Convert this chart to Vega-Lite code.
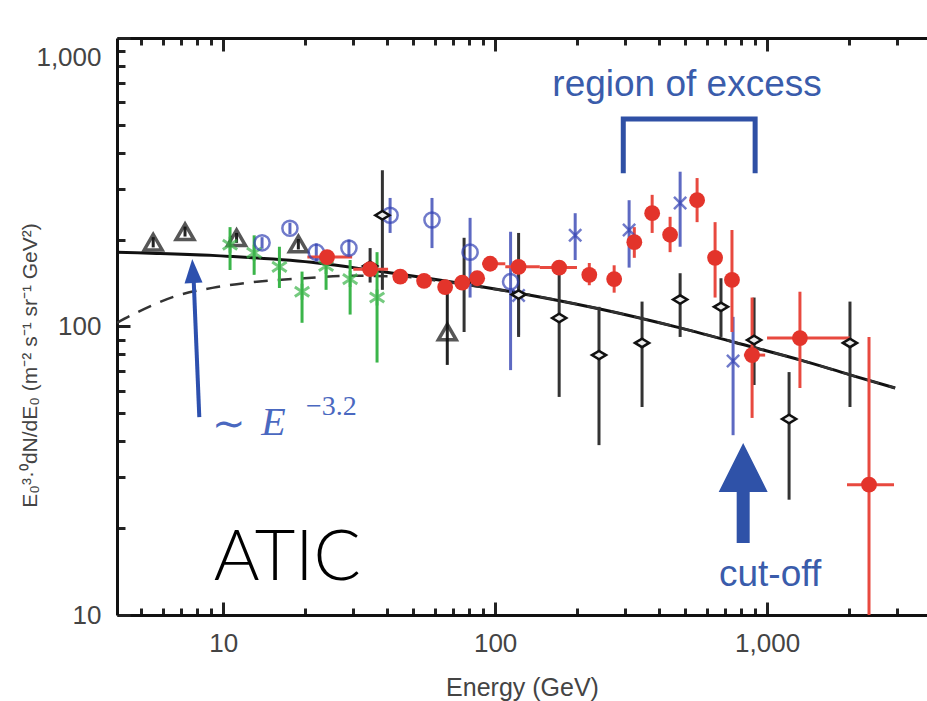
{
  "$schema": "https://vega.github.io/schema/vega-lite/v6.json",
  "autosize": {"type": "none"},
  "padding": {"left": 117, "top": 38, "right": 0, "bottom": 86},
  "width": 810,
  "height": 577,
  "background": "white",
  "config": {"view": {"stroke": null}},
  "datasets": {
    "pts": [
      {"s": "tri", "E": 5.53, "F": 196, "lo": 188, "hi": 204},
      {"s": "tri", "E": 7.24, "F": 213, "lo": 205, "hi": 222},
      {"s": "tri", "E": 11.2, "F": 203, "lo": 195, "hi": 211},
      {"s": "tri", "E": 18.9, "F": 193, "lo": 185, "hi": 201},
      {"s": "tri", "E": 66.7, "F": 95.7, "lo": 73.6, "hi": 142.6},
      {"s": "green", "E": 10.6, "F": 192, "lo": 157, "hi": 221},
      {"s": "green", "E": 13.0, "F": 180, "lo": 151, "hi": 207},
      {"s": "green", "E": 16.1, "F": 161, "lo": 136, "hi": 189},
      {"s": "green", "E": 19.5, "F": 132, "lo": 103, "hi": 155},
      {"s": "green", "E": 23.9, "F": 162, "lo": 134, "hi": 174},
      {"s": "green", "E": 29.3, "F": 146, "lo": 110, "hi": 170},
      {"s": "green", "E": 36.8, "F": 126, "lo": 75, "hi": 181},
      {"s": "bcirc", "E": 13.9, "F": 195, "lo": 186, "hi": 204},
      {"s": "bcirc", "E": 17.6, "F": 219, "lo": 209, "hi": 229},
      {"s": "bcirc", "E": 22.0, "F": 181, "lo": 168, "hi": 194},
      {"s": "bcirc", "E": 29.0, "F": 187, "lo": 176, "hi": 200},
      {"s": "bcirc", "E": 41.1, "F": 243, "lo": 211, "hi": 279},
      {"s": "bcirc", "E": 58.6, "F": 234, "lo": 187, "hi": 279},
      {"s": "bcirc", "E": 80.9, "F": 181, "lo": 126, "hi": 238},
      {"s": "bcirc", "E": 114, "F": 143, "lo": 70.6, "hi": 213},
      {"s": "bx", "E": 122, "F": 128, "lo": 93.5, "hi": 167.5},
      {"s": "bx", "E": 197, "F": 207, "lo": 170, "hi": 247},
      {"s": "bx", "E": 311, "F": 216, "lo": 160, "hi": 274},
      {"s": "bx", "E": 479, "F": 268, "lo": 189, "hi": 344},
      {"s": "bx", "E": 750, "F": 75.9, "lo": 42, "hi": 108},
      {"s": "diam", "E": 38.5, "F": 243, "lo": 134, "hi": 348},
      {"s": "diam", "E": 34.7, "F": 162, "lo": 142, "hi": 187},
      {"s": "diam", "E": 76.9, "F": 143, "lo": 95.7, "hi": 203},
      {"s": "diam", "E": 122, "F": 129, "lo": 92, "hi": 211},
      {"s": "diam", "E": 172, "F": 107, "lo": 57, "hi": 161},
      {"s": "diam", "E": 241, "F": 79.6, "lo": 38.8, "hi": 117},
      {"s": "diam", "E": 347, "F": 87.7, "lo": 52.6, "hi": 122},
      {"s": "diam", "E": 479, "F": 124, "lo": 92, "hi": 153},
      {"s": "diam", "E": 677, "F": 117, "lo": 92, "hi": 147},
      {"s": "diam", "E": 896, "F": 89.8, "lo": 62.7, "hi": 126},
      {"s": "diam", "E": 1205, "F": 47.8, "lo": 25.1, "hi": 69.5},
      {"s": "diam", "E": 2018, "F": 87.7, "lo": 52.6, "hi": 122},
      {"s": "atic", "E": 24.1, "F": 174, "lo": 168, "hi": 180, "xlo": 20.4, "xhi": 29.8},
      {"s": "atic", "E": 34.7, "F": 158, "lo": 150, "hi": 166, "xlo": 30.1, "xhi": 40.4},
      {"s": "atic", "E": 44.8, "F": 149},
      {"s": "atic", "E": 54.8, "F": 144},
      {"s": "atic", "E": 65.5, "F": 137},
      {"s": "atic", "E": 75.7, "F": 142},
      {"s": "atic", "E": 85.9, "F": 147},
      {"s": "atic", "E": 95.9, "F": 165, "xlo": 89.6, "xhi": 109},
      {"s": "atic", "E": 122, "F": 161, "xlo": 109, "xhi": 146},
      {"s": "atic", "E": 172, "F": 160, "xlo": 146, "xhi": 200},
      {"s": "atic", "E": 222, "F": 151, "lo": 139, "hi": 166},
      {"s": "atic", "E": 274, "F": 146, "lo": 131, "hi": 163},
      {"s": "atic", "E": 325, "F": 196, "lo": 173, "hi": 221},
      {"s": "atic", "E": 378, "F": 247, "lo": 211, "hi": 286},
      {"s": "atic", "E": 440, "F": 208, "lo": 181, "hi": 240},
      {"s": "atic", "E": 553, "F": 274, "lo": 230, "hi": 327},
      {"s": "atic", "E": 644, "F": 173, "lo": 126, "hi": 230},
      {"s": "atic", "E": 743, "F": 145, "lo": 95.7, "hi": 216},
      {"s": "atic", "E": 881, "F": 79.6, "lo": 48.2, "hi": 126, "xlo": 822, "xhi": 984},
      {"s": "atic", "E": 1321, "F": 91.2, "lo": 61.2, "hi": 132, "xlo": 1000, "xhi": 2018},
      {"s": "atic", "E": 2371, "F": 28.3, "lo": 10, "hi": 92, "xlo": 1968, "xhi": 2930}
    ],
    "solid": [
      {"E": 4.07, "F": 181}, {"E": 10.6, "F": 175}, {"E": 22.2, "F": 166}, {"E": 34.7, "F": 157},
      {"E": 68.4, "F": 143}, {"E": 120, "F": 131}, {"E": 243, "F": 115}, {"E": 479, "F": 98.9},
      {"E": 881, "F": 84.9}, {"E": 1321, "F": 76.6}, {"E": 2018, "F": 68.0}, {"E": 2958, "F": 61.2}
    ],
    "dashed": [
      {"E": 4.07, "F": 103}, {"E": 4.83, "F": 112}, {"E": 6.78, "F": 128}, {"E": 9.5, "F": 137},
      {"E": 13.3, "F": 143}, {"E": 19.9, "F": 147}, {"E": 29.3, "F": 150}, {"E": 44.8, "F": 149},
      {"E": 68.4, "F": 142}, {"E": 120, "F": 131}, {"E": 243, "F": 115}, {"E": 479, "F": 98.9},
      {"E": 881, "F": 84.9}, {"E": 1321, "F": 76.6}, {"E": 2018, "F": 68.0}, {"E": 2958, "F": 61.2}
    ]
  },
  "resolve": {"axis": {"x": "independent"}},
  "layer": [
    {
      "data": {"name": "solid"},
      "mark": {"type": "line", "color": "#111", "strokeWidth": 3, "interpolate": "monotone", "clip": true},
      "encoding": {
        "x": {"field": "E", "type": "quantitative",
          "scale": {"type": "log", "domain": [4.07, 3874], "nice": false},
          "axis": {"orient": "bottom",
            "values": [5,6,7,8,9,10,20,30,40,50,60,70,80,90,100,200,300,400,500,600,700,800,900,1000,2000,3000],
            "labelExpr": "datum.value==10?'10':datum.value==100?'100':datum.value==1000?'1,000':''",
            "tickSize": {"condition": {"test": "datum.value==10||datum.value==100||datum.value==1000", "value": -13}, "value": -7},
            "tickWidth": 3, "tickColor": "#222", "domainWidth": 3, "domainColor": "#111",
            "labelPadding": 28, "labelFontSize": 26, "labelColor": "#444", "labelFont": "Liberation Sans",
            "labelFlush": false, "labelOverlap": false, "grid": false,
            "title": "Energy (GeV)", "titleFontSize": 25, "titleFontWeight": "normal", "titleColor": "#444",
            "titleFont": "Liberation Sans", "titleY": 72, "titleBaseline": "middle"}},
        "y": {"field": "F", "type": "quantitative",
          "scale": {"type": "log", "domain": [10, 1000], "nice": false},
          "axis": {"orient": "left",
            "values": [10,20,30,40,50,60,70,80,90,100,200,300,400,500,600,700,800,900,1000],
            "labelExpr": "datum.value==10?'10':datum.value==100?'100':datum.value==1000?'1,000':''",
            "tickSize": {"condition": {"test": "datum.value==10||datum.value==100||datum.value==1000", "value": -13}, "value": -8},
            "labelOffset": {"condition": {"test": "datum.value==1000", "value": 19}, "value": 0},
            "tickWidth": 3, "tickColor": "#222", "domainWidth": 3, "domainColor": "#111",
            "labelPadding": 29, "labelFontSize": 26, "labelColor": "#444", "labelFont": "Liberation Sans",
            "labelFlush": false, "labelOverlap": false, "grid": false,
            "title": "E₀³·⁰dN/dE₀ (m⁻² s⁻¹ sr⁻¹ GeV²)", "titleFontSize": 21, "titleFontWeight": "normal",
            "titleColor": "#444", "titleFont": "Liberation Sans",
            "titleX": -87, "titleY": 327, "titleBaseline": "middle", "titleAlign": "center", "titleAngle": -90}}
      }
    },
    {
      "data": {"name": "dashed"},
      "mark": {"type": "line", "color": "#333", "strokeWidth": 2.5, "strokeDash": [14, 10], "interpolate": "monotone", "clip": true},
      "encoding": {
        "x": {"field": "E", "type": "quantitative",
          "axis": {"orient": "top",
            "values": [5,6,7,8,9,10,20,30,40,50,60,70,80,90,100,200,300,400,500,600,700,800,900,1000,2000,3000],
            "labels": false, "title": null, "grid": false,
            "tickSize": {"condition": {"test": "datum.value==10||datum.value==100||datum.value==1000", "value": -13}, "value": -7},
            "tickWidth": 3, "tickColor": "#222", "domainWidth": 3, "domainColor": "#111"}},
        "y": {"field": "F", "type": "quantitative"}
      }
    },
    {
      "data": {"name": "pts"},
      "transform": [{"filter": "isValid(datum.lo)"}],
      "mark": {"type": "rule", "strokeWidth": 3, "clip": true},
      "encoding": {
        "x": {"field": "E", "type": "quantitative", "axis": null},
        "y": {"field": "lo", "type": "quantitative"},
        "y2": {"field": "hi"},
        "color": {"field": "s", "type": "nominal", "legend": null,
          "scale": {"domain": ["tri", "green", "bcirc", "bx", "diam", "atic"],
                    "range": ["#222", "#3bb54a", "#5d69c2", "#5d69c2", "#333", "#e8493f"]}}
      }
    },
    {
      "data": {"name": "pts"},
      "transform": [{"filter": "isValid(datum.xlo)"}],
      "mark": {"type": "rule", "strokeWidth": 3, "color": "#e8493f", "clip": true},
      "encoding": {
        "x": {"field": "xlo", "type": "quantitative", "axis": null},
        "x2": {"field": "xhi"},
        "y": {"field": "F", "type": "quantitative"}
      }
    },
    {
      "data": {"name": "pts"},
      "transform": [{"filter": "datum.s=='tri'"}],
      "mark": {"type": "point", "shape": "triangle-up", "filled": false, "stroke": "#111", "strokeWidth": 3.5, "size": 320},
      "encoding": {
        "x": {"field": "E", "type": "quantitative", "axis": null},
        "y": {"field": "F", "type": "quantitative"}
      }
    },
    {
      "data": {"name": "pts"},
      "transform": [{"filter": "datum.s=='green'"}],
      "mark": {"type": "point", "shape": "M-0.9,-0.6L0.9,0.6M-0.9,0.6L0.9,-0.6M0,-1L0,1", "filled": false, "stroke": "#3bb54a", "strokeWidth": 3, "size": 256},
      "encoding": {
        "x": {"field": "E", "type": "quantitative", "axis": null},
        "y": {"field": "F", "type": "quantitative"}
      }
    },
    {
      "data": {"name": "pts"},
      "transform": [{"filter": "datum.s=='bcirc'"}],
      "mark": {"type": "point", "shape": "circle", "filled": false, "stroke": "#3443b5", "strokeWidth": 2.5, "size": 230},
      "encoding": {
        "x": {"field": "E", "type": "quantitative", "axis": null},
        "y": {"field": "F", "type": "quantitative"}
      }
    },
    {
      "data": {"name": "pts"},
      "transform": [{"filter": "datum.s=='bx'"}],
      "mark": {"type": "point", "shape": "M-1,-1L1,1M-1,1L1,-1", "filled": false, "stroke": "#3443b5", "strokeWidth": 2.5, "size": 150},
      "encoding": {
        "x": {"field": "E", "type": "quantitative", "axis": null},
        "y": {"field": "F", "type": "quantitative"}
      }
    },
    {
      "data": {"name": "pts"},
      "transform": [{"filter": "datum.s=='diam'"}],
      "mark": {"type": "point", "shape": "M-1,0L0,-0.6L1,0L0,0.6Z", "filled": true, "fill": "#eee", "stroke": "#111", "strokeWidth": 2.5, "size": 200, "opacity": 1},
      "encoding": {
        "x": {"field": "E", "type": "quantitative", "axis": null},
        "y": {"field": "F", "type": "quantitative"}
      }
    },
    {
      "data": {"name": "pts"},
      "transform": [{"filter": "datum.s=='atic'"}],
      "mark": {"type": "point", "shape": "circle", "filled": true, "color": "#e3342b", "size": 250, "opacity": 1},
      "encoding": {
        "x": {"field": "E", "type": "quantitative", "axis": null},
        "y": {"field": "F", "type": "quantitative"}
      }
    },
    {
      "data": {"values": [{"i": 1, "E": 296, "F": 340}, {"i": 2, "E": 296, "F": 524}, {"i": 3, "E": 904, "F": 524}, {"i": 4, "E": 904, "F": 340}]},
      "mark": {"type": "line", "color": "#2f50a5", "strokeWidth": 5, "strokeJoin": "miter"},
      "encoding": {
        "x": {"field": "E", "type": "quantitative", "axis": null},
        "y": {"field": "F", "type": "quantitative"},
        "order": {"field": "i"}
      }
    },
    {
      "data": {"values": [{"E": 8.17, "F": 48.5, "E2": 7.79, "F2": 145}]},
      "mark": {"type": "rule", "color": "#2d50ae", "strokeWidth": 4},
      "encoding": {
        "x": {"field": "E", "type": "quantitative", "axis": null},
        "y": {"field": "F", "type": "quantitative"},
        "x2": {"field": "E2"},
        "y2": {"field": "F2"}
      }
    },
    {
      "data": {"values": [{"E": 7.74, "F": 155.6}]},
      "mark": {"type": "point", "shape": "M0,-1L0.75,1L-0.75,1Z", "filled": true, "color": "#2d50ae", "size": 576, "angle": -3, "opacity": 1},
      "encoding": {
        "x": {"field": "E", "type": "quantitative", "axis": null},
        "y": {"field": "F", "type": "quantitative"}
      }
    },
    {
      "data": {"values": [{"E": 817, "F": 26.5}]},
      "mark": {"type": "point", "shape": "M0,-1L0.49,-0.02L0.13,-0.02L0.13,1L-0.13,1L-0.13,-0.02L-0.49,-0.02Z", "filled": true, "color": "#2f52a8", "size": 10000, "opacity": 1},
      "encoding": {
        "x": {"field": "E", "type": "quantitative", "axis": null},
        "y": {"field": "F", "type": "quantitative"}
      }
    },
    {
      "data": {"values": [
        {"E": 508, "F": 687, "t": "region of excess"},
        {"E": 1026, "F": 13.8, "t": "cut-off"}
      ]},
      "mark": {"type": "text", "font": "Liberation Sans", "fontSize": 37, "color": "#3a5cab", "align": "center", "baseline": "middle"},
      "encoding": {
        "x": {"field": "E", "type": "quantitative", "axis": null},
        "y": {"field": "F", "type": "quantitative"},
        "text": {"field": "t"}
      }
    },
    {
      "data": {"values": [{"E": 17.2, "F": 13.2, "t": "ATIC"}]},
      "mark": {"type": "text", "font": "Lato", "fontWeight": 300, "fontSize": 70, "color": "#000", "align": "center", "baseline": "alphabetic"},
      "encoding": {
        "x": {"field": "E", "type": "quantitative", "axis": null},
        "y": {"field": "F", "type": "quantitative"},
        "text": {"field": "t"}
      }
    },
    {
      "data": {"values": [{"E": 10.5, "F": 45.6, "t": "∼"}]},
      "mark": {"type": "text", "font": "Liberation Serif", "fontSize": 40, "color": "#4a68c0", "align": "center", "baseline": "middle"},
      "encoding": {
        "x": {"field": "E", "type": "quantitative", "axis": null},
        "y": {"field": "F", "type": "quantitative"},
        "text": {"field": "t"}
      }
    },
    {
      "data": {"values": [{"E": 15.3, "F": 46.4, "t": "E"}]},
      "mark": {"type": "text", "font": "Liberation Serif", "fontStyle": "italic", "fontSize": 40, "color": "#4a68c0", "align": "center", "baseline": "middle"},
      "encoding": {
        "x": {"field": "E", "type": "quantitative", "axis": null},
        "y": {"field": "F", "type": "quantitative"},
        "text": {"field": "t"}
      }
    },
    {
      "data": {"values": [{"E": 25.0, "F": 52.5, "t": "−3.2"}]},
      "mark": {"type": "text", "font": "Liberation Serif", "fontSize": 28, "color": "#4a68c0", "align": "center", "baseline": "middle"},
      "encoding": {
        "x": {"field": "E", "type": "quantitative", "axis": null},
        "y": {"field": "F", "type": "quantitative"},
        "text": {"field": "t"}
      }
    }
  ]
}
